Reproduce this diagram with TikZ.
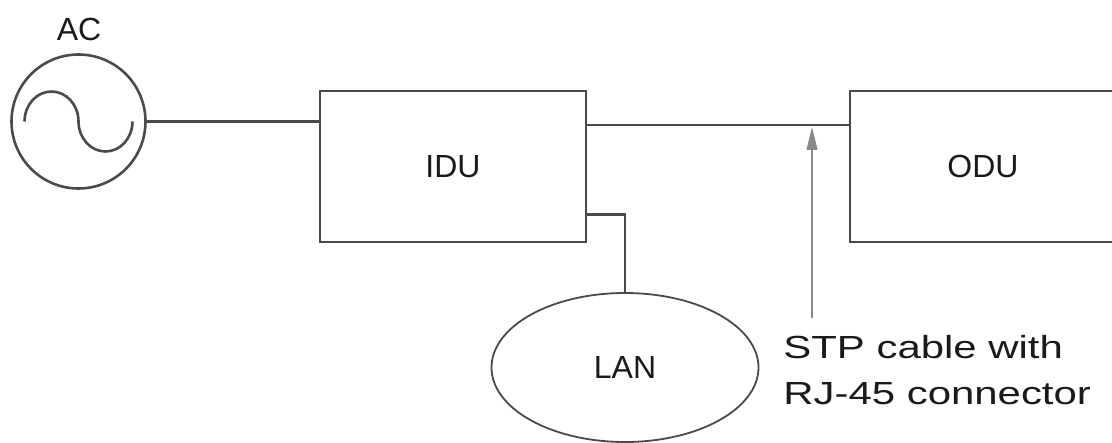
\documentclass[tikz,border=0pt]{standalone}
\usepackage{fontspec}
\setmainfont{Liberation Sans}
\newfontfamily\widesans[FakeStretch=1.31]{Liberation Sans}
\usetikzlibrary{arrows.meta,shapes.geometric}
\definecolor{WireGray}{HTML}{4A4A4A}
\definecolor{PointerGray}{HTML}{8A8A8A}
\definecolor{LabelInk}{HTML}{1A1A1A}
\tikzset{
  wire/.style={line width=1.3pt,draw=WireGray},
  unit/.style={draw=WireGray,line width=1.3pt,minimum width=133pt,minimum height=75.5pt,inner sep=0pt,font=\fontsize{16}{19}\selectfont,text=LabelInk},
  source/.style={circle,draw=WireGray,line width=1.3pt,minimum size=67pt,inner sep=0pt},
  network/.style={ellipse,draw=WireGray,line width=0.9pt,minimum width=133.5pt,minimum height=74.5pt,inner sep=0pt,font=\fontsize{16}{19}\selectfont,text=LabelInk},
  tag/.style={font=\fontsize{16}{19}\selectfont,text=LabelInk,inner sep=0pt},
  pointer/.style={-{Triangle[length=11.5pt,width=5.5pt]},line width=0.6pt,draw=PointerGray},
  caption/.style={align=left,inner sep=0pt,font=\widesans\fontsize{16}{23}\selectfont,text=LabelInk}
}
\begin{document}
\begin{tikzpicture}[x=0.5pt,y=-0.5pt]
  \useasboundingbox (0,0) rectangle (1112,443);
  \clip (0,0) rectangle (1112,443);
  % AC source with sine symbol
  \node[source] (ac) at (78.5,121.5) {};
  \node[tag] (aclabel) at (79,29.5) {AC};
  \draw[wire] ([xshift=-27pt]ac.center)
    arc[start angle=180,end angle=0,x radius=13.5pt,y radius=15pt]
    arc[start angle=180,end angle=360,x radius=13.5pt,y radius=15pt];
  % units
  \node[unit] (idu) at (453,166.5) {IDU};
  \node[unit] (odu) at (983,166.5) {ODU};
  \node[network] (lan) at (625,367.5) {LAN};
  \coordinate (tap) at (812,125);
  \coordinate (tail) at (812,318);
  % wiring
  \draw[wire] (ac.east) -- (ac.east -| idu.west);
  \draw[wire] (tap -| idu.east) -- (tap -| odu.west);
  \draw[wire] (lan.north) |- ([yshift=14.5pt]idu.south east);
  \draw[pointer,shorten >=1pt] (tail) -- (tap);
  \node[caption,anchor=north west] (stp) at (783,334.5) {STP cable with\\RJ-45 connector};
\end{tikzpicture}
\end{document}
